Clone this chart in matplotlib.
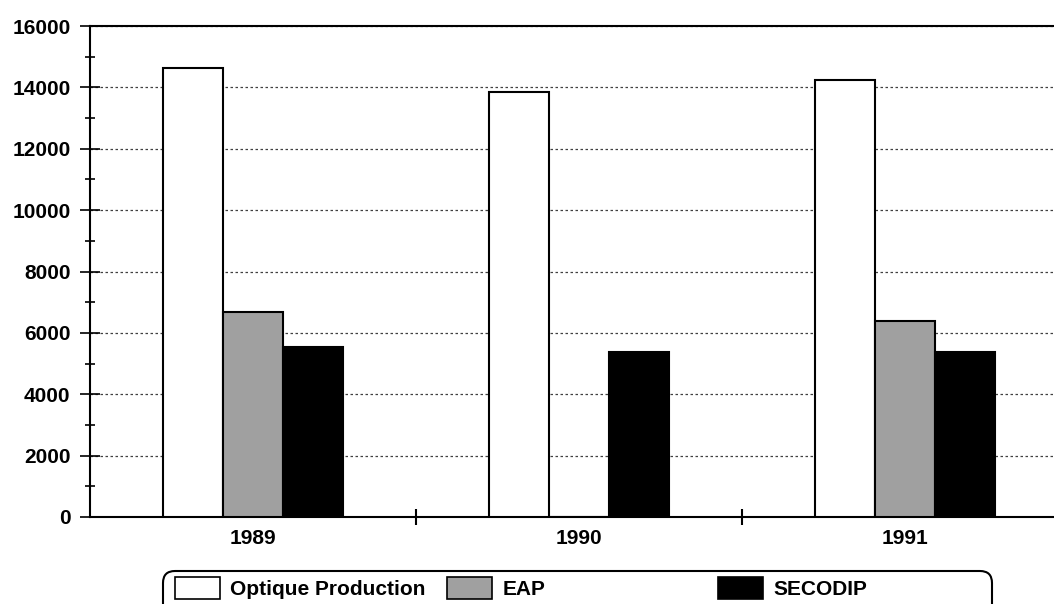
import matplotlib.pyplot as plt
import numpy as np
from matplotlib.patches import FancyBboxPatch, Patch

plt.rcParams['font.family'] = ['Liberation Sans', 'DejaVu Sans']
plt.rcParams['font.weight'] = 'bold'

years = ['1989', '1990', '1991']
series = ['Optique Production', 'EAP', 'SECODIP']
optique = [14630, 13860, 14230]
eap = [6680, 0, 6400]
secodip = [5530, 5390, 5370]
colors = ['white', '#a0a0a0', 'black']

fig = plt.figure(figsize=(10.54, 6.04), dpi=100)
# axes runs a bit past the right edge, like the original
ax = fig.add_axes([90 / 1054, 87 / 604, 978 / 1054, 491 / 604])

x = np.arange(len(years))
w = 0.184
for i, (vals, c) in enumerate(zip([optique, eap, secodip], colors)):
    ax.bar(x + (i - 1) * w, vals, w, color=c, edgecolor='black', linewidth=1.5, zorder=3)

ax.set_xlim(-0.5, 2.5)
ax.set_ylim(0, 16000)
ax.set_yticks(np.arange(0, 16001, 2000))
ax.set_yticks(np.arange(1000, 16000, 2000), minor=True)
ax.yaxis.grid(True, linestyle=(0, (2, 2)), color='#404040', linewidth=0.9, zorder=0)

ax.set_xticks(x)
ax.set_xticklabels(years)
ax.set_xticks([0.5, 1.5], minor=True)
ax.tick_params(axis='x', which='major', length=0, pad=9, labelsize=15)
ax.tick_params(axis='x', which='minor', direction='inout', length=11.5, width=1.5)
ax.tick_params(axis='y', which='major', direction='inout', length=14, width=1.2, pad=7, labelsize=15)
ax.tick_params(axis='y', which='minor', direction='inout', length=7, width=1.2)
for lab in ax.get_xticklabels() + ax.get_yticklabels():
    lab.set_fontweight('bold')

ax.spines['right'].set_visible(False)
for s in ['left', 'bottom', 'top']:
    ax.spines[s].set_linewidth(1.5)
    ax.spines[s].set_color('black')

# legend frame
frame = FancyBboxPatch((163, -30), 829, 63, boxstyle='round,pad=0,rounding_size=12',
                       transform=None, facecolor='white', edgecolor='black', linewidth=1.5)
fig.patches.append(frame)

starts = [175, 447, 718]
for name, c, xs in zip(series, colors, starts):
    h = Patch(facecolor=c, edgecolor='black', linewidth=1.2)
    fig.legend([h], [name], loc='upper left', bbox_to_anchor=(xs / 1054, 27 / 604),
               frameon=False, borderpad=0, borderaxespad=0, handlelength=2.16,
               handleheight=1.25, handletextpad=0.5,
               prop={'size': 15, 'weight': 'bold'})

fig.savefig('out.png', dpi=100)
